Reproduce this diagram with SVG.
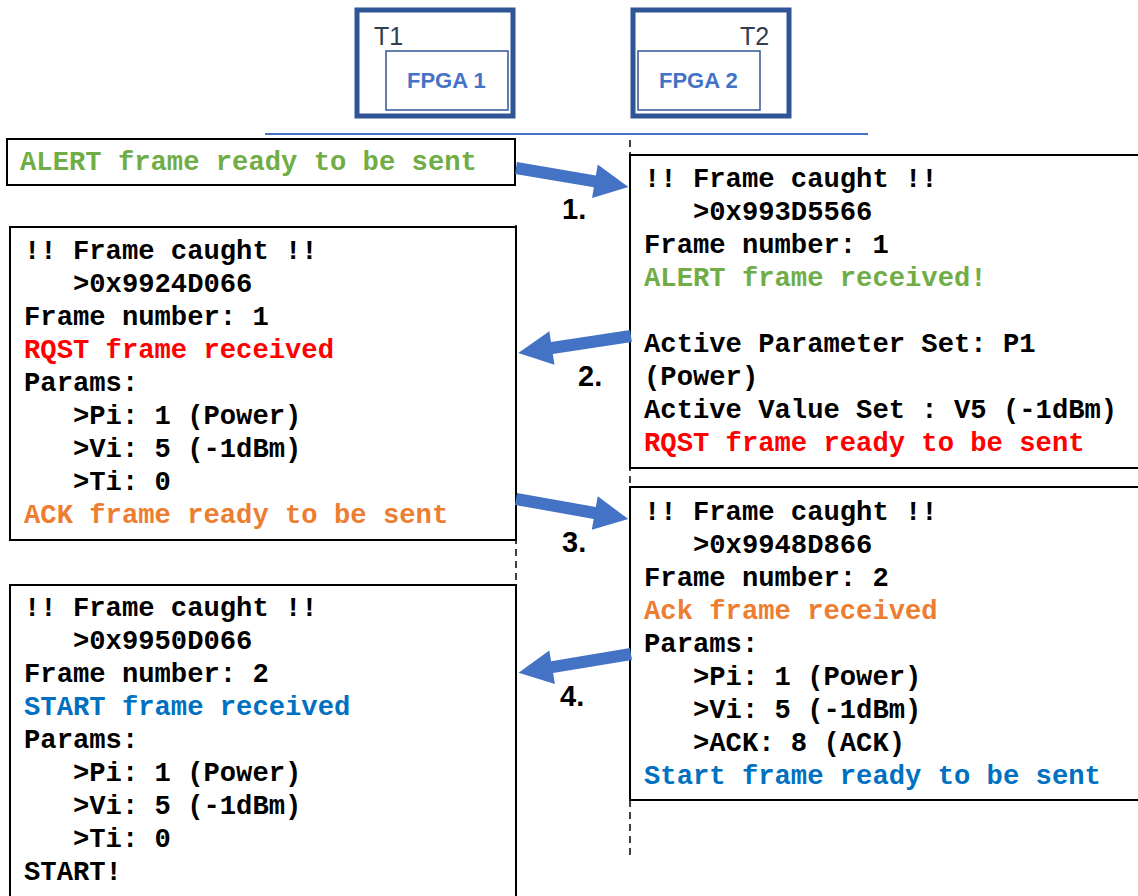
<svg xmlns="http://www.w3.org/2000/svg" xmlns:xlink="http://www.w3.org/1999/xlink" width="1138" height="896" viewBox="0 0 1138 896">
<style>
.box{fill:#fff;stroke:#000;stroke-width:2}
.dash{stroke:#000;stroke-width:1.5;stroke-dasharray:7 5;fill:none}
.mono{font-family:"Liberation Mono","Courier New",monospace;font-weight:bold;font-size:27.2px;fill:#000;white-space:pre}
.g{fill:#70AD47}.r{fill:#FF0000}.o{fill:#ED7D31}.b{fill:#0070C0}
.tout{fill:none;stroke:#2F5597;stroke-width:5}
.tin{fill:none;stroke:#2F5597;stroke-width:1.5}
.fpga{font-family:"Liberation Sans",Arial,sans-serif;font-weight:bold;font-size:22px;fill:#4472C4}
.tl{font-family:"Liberation Sans",Arial,sans-serif;font-size:25px;fill:#333F50}
.num{font-family:"Liberation Sans",Arial,sans-serif;font-weight:bold;font-size:29px;fill:#000}
.arrow{fill:#4472C4}
</style>
<defs>
<path id="arr" d="M0,-6 H80 V-17 L114,0 L80,17 V6 H0 Z"/>
</defs>
<rect width="1138" height="896" fill="#fff"/>
<g id="lifelines">
<line class="dash" x1="630" y1="140" x2="630" y2="860"/>
<line class="dash" x1="516" y1="225" x2="516" y2="896"/>
<line x1="265" y1="134" x2="868" y2="134" stroke="#4472C4" stroke-width="2"/>
</g>
<g id="t1">
<rect class="tout" x="357" y="10" width="156" height="106"/>
<rect class="tin" x="386" y="51" width="122" height="59"/>
<text class="tl" x="374" y="45">T1</text>
<text class="fpga" x="407" y="88">FPGA 1</text>
</g>
<g id="t2">
<rect class="tout" x="633" y="10" width="156" height="106"/>
<rect class="tin" x="638" y="51" width="122" height="59"/>
<text class="tl" x="740" y="45">T2</text>
<text class="fpga" x="659" y="88">FPGA 2</text>
</g>
<g id="alert">
<rect class="box" x="7" y="139" width="508" height="46"/>
<text class="mono g" x="20" y="170">ALERT frame ready to be sent</text>
</g>
<g id="t2-rx1">
<rect class="box" x="630" y="155" width="512" height="313"/>
<text class="mono" x="644" y="187">!! Frame caught !!</text>
<text class="mono" x="644" y="220">   &gt;0x993D5566</text>
<text class="mono" x="644" y="253">Frame number: 1</text>
<text class="mono g" x="644" y="286">ALERT frame received!</text>
<text class="mono" x="644" y="352">Active Parameter Set: P1</text>
<text class="mono" x="644" y="385">(Power)</text>
<text class="mono" x="644" y="418">Active Value Set : V5 (-1dBm)</text>
<text class="mono r" x="644" y="451">RQST frame ready to be sent</text>
</g>
<g id="t1-rx1">
<rect class="box" x="10" y="227" width="506" height="313"/>
<text class="mono" x="24" y="259">!! Frame caught !!</text>
<text class="mono" x="24" y="292">   &gt;0x9924D066</text>
<text class="mono" x="24" y="325">Frame number: 1</text>
<text class="mono r" x="24" y="358">RQST frame received</text>
<text class="mono" x="24" y="391">Params:</text>
<text class="mono" x="24" y="424">   &gt;Pi: 1 (Power)</text>
<text class="mono" x="24" y="457">   &gt;Vi: 5 (-1dBm)</text>
<text class="mono" x="24" y="490">   &gt;Ti: 0</text>
<text class="mono o" x="24" y="523">ACK frame ready to be sent</text>
</g>
<g id="t2-rx2">
<rect class="box" x="630" y="487" width="512" height="313"/>
<text class="mono" x="644" y="520">!! Frame caught !!</text>
<text class="mono" x="644" y="553">   &gt;0x9948D866</text>
<text class="mono" x="644" y="586">Frame number: 2</text>
<text class="mono o" x="644" y="619">Ack frame received</text>
<text class="mono" x="644" y="652">Params:</text>
<text class="mono" x="644" y="685">   &gt;Pi: 1 (Power)</text>
<text class="mono" x="644" y="718">   &gt;Vi: 5 (-1dBm)</text>
<text class="mono" x="644" y="751">   &gt;ACK: 8 (ACK)</text>
<text class="mono b" x="644" y="784">Start frame ready to be sent</text>
</g>
<g id="t1-rx2">
<rect class="box" x="10" y="585" width="506" height="320"/>
<text class="mono" x="24" y="616">!! Frame caught !!</text>
<text class="mono" x="24" y="649">   &gt;0x9950D066</text>
<text class="mono" x="24" y="682">Frame number: 2</text>
<text class="mono b" x="24" y="715">START frame received</text>
<text class="mono" x="24" y="748">Params:</text>
<text class="mono" x="24" y="781">   &gt;Pi: 1 (Power)</text>
<text class="mono" x="24" y="814">   &gt;Vi: 5 (-1dBm)</text>
<text class="mono" x="24" y="847">   &gt;Ti: 0</text>
<text class="mono" x="24" y="880">START!</text>
</g>
<g id="connectors">
<use xlink:href="#arr" class="arrow" transform="translate(516,168) rotate(9.6)"/>
<use xlink:href="#arr" class="arrow" transform="translate(631,336) rotate(171.4)"/>
<use xlink:href="#arr" class="arrow" transform="translate(516,499) rotate(10.1)"/>
<use xlink:href="#arr" class="arrow" transform="translate(631,654) rotate(170.5)"/>
<text class="num" x="562" y="219">1.</text>
<text class="num" x="578" y="386">2.</text>
<text class="num" x="562" y="552">3.</text>
<text class="num" x="560" y="706">4.</text>
</g>
</svg>
